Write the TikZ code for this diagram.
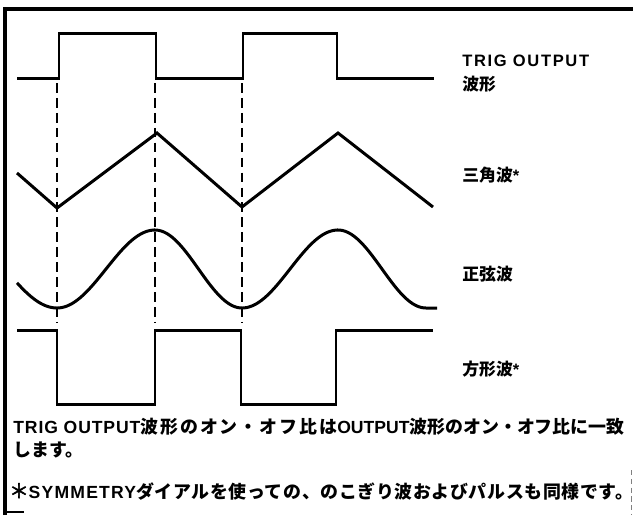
\documentclass[tikz,border=0pt]{standalone}
\usepackage{fontspec}
\newfontfamily\jpfont{Noto Sans CJK JP}[Scale=1.02]
\newfontfamily\jpwidefont{Noto Sans CJK JP}[Scale=1.02, LetterSpace=11]
\newfontfamily\jplinefont{Noto Sans CJK JP}[Scale=1.02, LetterSpace=3.5]
\newfontfamily\jpheavyfont{Noto Sans CJK JP}[Scale=1.1, FakeBold=3]
\newfontfamily\latfont{Liberation Sans Bold}
\newfontfamily\latnotefont{Liberation Sans Bold}[LetterSpace=5]
\newfontfamily\latwidefont{Liberation Sans Bold}[LetterSpace=10]
\newcommand{\jp}[1]{{\jpfont\bfseries #1}}
\newcommand{\jpw}[1]{{\jpwidefont\bfseries #1}}
\newcommand{\jpl}[1]{{\jplinefont\bfseries #1}}
\newcommand{\lat}[1]{{\latfont #1}}
\newcommand{\latn}[1]{{\latnotefont #1}}
\newcommand{\latw}[1]{{\latwidefont #1}}

\tikzset{
  wave/.style={line width=1.7pt},
  guide/.style={line width=0.9pt, dash pattern=on 5.5pt off 3pt},
  wavelabel/.style={anchor=base west, inner sep=0pt, font=\fontsize{9.4}{11}\selectfont},
  note/.style={anchor=base west, inner sep=0pt, font=\fontsize{10}{12}\selectfont},
}

\begin{document}
\begin{tikzpicture}[x=0.02cm,y=-0.02cm]

\useasboundingbox (0,0) rectangle (633,515);

% Frame
\draw[line width=2.2pt] (5,515) -- (5,9) -- (633,9);
\draw[line width=0.6pt] (5,512) -- (24,512);
\draw[line width=0.4pt, densely dashed, gray] (631.5,470) -- (631.5,514);

% Guide lines
\foreach \x in {57,155,242}
  \draw[guide] (\x,83) -- (\x,323);

% TRIG OUTPUT waveform
\draw[wave] (17,78) -- (59,78) -- (59,33) -- (156,33) -- (156,78)
  -- (243,78) -- (243,33) -- (337,33) -- (337,78) -- (434,78);

% Triangle
\draw[wave] (17,173) -- (57,208) -- (157,133) -- (242,207)
  -- (338,133) -- (433,207);

% Sine
\draw[wave] plot[domain=17:57, samples=20] (\x,{269-39*cos((\x+47)/104*180)})
  -- plot[domain=57:155, samples=40] (\x,{269+39*cos((\x-57)/98*180)})
  -- plot[domain=155:242, samples=40] (\x,{269-39*cos((\x-155)/87*180)})
  -- plot[domain=242:338, samples=40] (\x,{269+39*cos((\x-242)/96*180)})
  -- plot[domain=338:426, samples=40] (\x,{269-39*cos((\x-338)/88*180)})
  -- (437,308);

% Square
\draw[wave] (17,330) -- (57,330) -- (57,404) -- (155,404) -- (155,330)
  -- (241,330) -- (241,404) -- (336,404) -- (336,330) -- (433,330);

% Wave labels
\node[wavelabel] (trig) at (462,66) {\latw{TRIG OUTPUT}};
\node[wavelabel] (trigjp) at (462,90) {\jp{波形}};
\node[wavelabel] (tri) at (462,181) {\jp{三角波}\lat{*}};
\node[wavelabel] (sine) at (462,280) {\jp{正弦波}};
\node[wavelabel] (square) at (462,375) {\jp{方形波}\lat{*}};

% Notes
\node[note] (note1) at (13,433)
  {\latn{TRIG OUTPUT}\jpw{波形のオン・オフ比は}\lat{OUTPUT}\jp{波形のオン・オフ比に一致}};
\node[note] (note2) at (13,456) {\jp{します。}};
\node[note] (note3) at (9,498)
  {\jpheavyfont ＊{\latfont\addfontfeature{LetterSpace=7}SYMMETRY}\jpl{ダイアルを使っての、のこぎり波およびパルスも同様です。}};

\end{tikzpicture}
\end{document}
